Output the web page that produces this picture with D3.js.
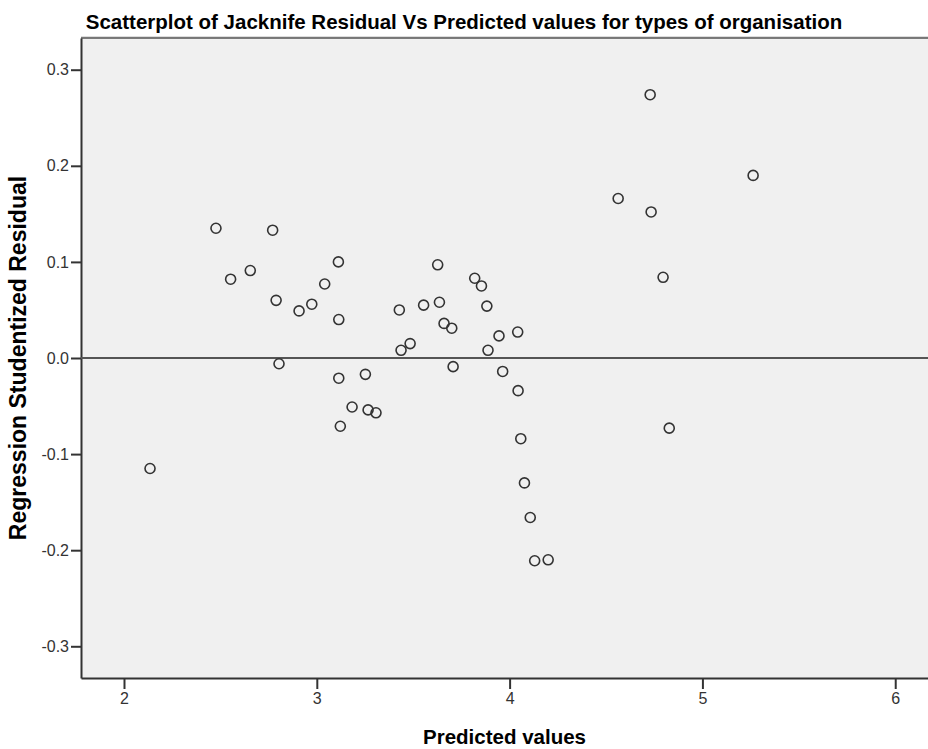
<!DOCTYPE html>
<html>
<head>
<meta charset="utf-8">
<script src="https://cdn.jsdelivr.net/npm/d3@7"></script>
<style>
  body { margin: 0; background: #fff; }
  text { font-family: "Liberation Sans", Arial, sans-serif; }
  .tick text { font-size: 16px; fill: #333; }
  .axis-title { font-size: 20.5px; font-weight: bold; fill: #000; }
</style>
</head>
<body>
<svg id="chart" width="928" height="749"></svg>
<script>
// predicted values (x) and jacknife residuals (y)
const predicted = [
  2.477, 2.771, 2.553, 2.655, 3.112, 3.041, 2.789, 2.908, 2.974, 3.114,
  3.428, 3.554, 3.484, 3.437, 2.804, 3.114, 3.252, 3.183, 3.266, 3.307,
  3.122, 3.627, 3.819, 3.854, 3.636, 3.882, 3.660, 3.700, 3.945, 4.042,
  3.888, 3.707, 3.964, 4.044, 4.058, 4.077, 4.107, 4.130, 4.200, 4.729,
  4.563, 4.734, 5.263, 4.796, 4.828, 2.135
];
const residual = [
  0.135, 0.133, 0.082, 0.091, 0.100, 0.077, 0.060, 0.049, 0.056, 0.040,
  0.050, 0.055, 0.015, 0.008, -0.006, -0.021, -0.017, -0.051, -0.054, -0.057,
  -0.071, 0.097, 0.083, 0.075, 0.058, 0.054, 0.036, 0.031, 0.023, 0.027,
  0.008, -0.009, -0.014, -0.034, -0.084, -0.130, -0.166, -0.211, -0.210, 0.274,
  0.166, 0.152, 0.190, 0.084, -0.073, -0.115
];
const xTicks = [2, 3, 4, 5, 6];
const yTicks = [-0.3, -0.2, -0.1, 0.0, 0.1, 0.2, 0.3];

const titleText = "Scatterplot of Jacknife Residual Vs Predicted values for types of organisation";
const xTitle = "Predicted values";
const yTitle = "Regression Studentized Residual";

const width = 928, height = 749;
const margin = { top: 38, right: 0, bottom: 71, left: 81 };

const svg = d3.select("#chart");

const x = d3.scaleLinear().domain([1.777, 6.17])
    .range([margin.left, width - margin.right]);
const y = d3.scaleLinear().domain([-0.333, 0.333])
    .range([height - margin.bottom, margin.top]);

// plot background
svg.append("rect")
    .attr("x", margin.left).attr("y", margin.top)
    .attr("width", width - margin.left - margin.right)
    .attr("height", height - margin.top - margin.bottom)
    .attr("fill", "#f0f0f0");

// top frame line
svg.append("line")
    .attr("x1", margin.left).attr("x2", width)
    .attr("y1", margin.top - 1).attr("y2", margin.top - 1)
    .attr("stroke", "#bbb").attr("stroke-width", 1);
svg.append("line")
    .attr("x1", margin.left).attr("x2", width)
    .attr("y1", margin.top).attr("y2", margin.top)
    .attr("stroke", "#555").attr("stroke-width", 1.5);

// axes
let xAxis = svg.append("g")
    .attr("transform", `translate(0,${height - margin.bottom})`)
    .call(d3.axisBottom(x).tickValues(xTicks).tickSize(11).tickSizeOuter(0)
        .tickPadding(4).tickFormat(d3.format("d")));
let yAxis = svg.append("g")
    .attr("transform", `translate(${margin.left},0)`)
    .call(d3.axisLeft(y).tickValues(yTicks).tickSize(10).tickSizeOuter(0)
        .tickPadding(2).tickFormat(d => d.toFixed(1)));

[xAxis, yAxis].forEach(g => {
  g.select(".domain").attr("stroke", "#333").attr("stroke-width", 2);
  g.selectAll(".tick line").attr("stroke", "#333").attr("stroke-width", 2);
});

// zero reference line
svg.append("line")
    .attr("x1", margin.left).attr("x2", width)
    .attr("y1", y(0)).attr("y2", y(0))
    .attr("stroke", "#555").attr("stroke-width", 2);

// points
svg.append("g").selectAll("circle")
    .data(d3.range(predicted.length))
    .join("circle")
    .attr("cx", i => x(predicted[i]))
    .attr("cy", i => y(residual[i]))
    .attr("r", 5)
    .attr("fill", "none")
    .attr("stroke", "#333")
    .attr("stroke-width", 1.6);

// titles
svg.append("text")
    .attr("class", "axis-title")
    .attr("x", width / 2).attr("y", 29)
    .attr("text-anchor", "middle")
    .text(titleText);

svg.append("text")
    .attr("class", "axis-title")
    .attr("x", (margin.left + width - margin.right) / 2).attr("y", 744)
    .attr("text-anchor", "middle")
    .text(xTitle);

svg.append("text")
    .attr("class", "axis-title")
    .attr("transform", `translate(26,${(margin.top + height - margin.bottom) / 2}) rotate(-90)`)
    .attr("text-anchor", "middle")
    .style("font-size", "23px")
    .text(yTitle);
</script>
</body>
</html>
